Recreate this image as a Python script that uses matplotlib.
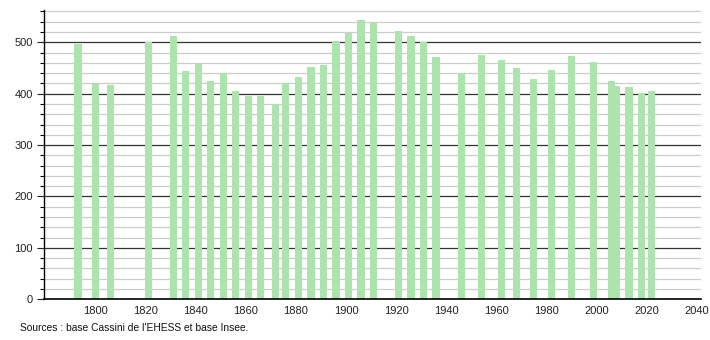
import matplotlib
matplotlib.use("Agg")
import matplotlib.pyplot as plt
from matplotlib.ticker import MultipleLocator

plt.rcParams['font.family'] = ['Liberation Sans', 'DejaVu Sans']

years = [1793, 1800, 1806, 1821, 1831, 1836, 1841, 1846, 1851, 1856, 1861, 1866,
         1872, 1876, 1881, 1886, 1891, 1896, 1901, 1906, 1911, 1921, 1926, 1931,
         1936, 1946, 1954, 1962, 1968, 1975, 1982, 1990, 1999, 2006, 2008, 2013,
         2018, 2022]
population = [497, 419, 416, 500, 512, 444, 458, 425, 440, 405, 395, 395,
              379, 420, 432, 452, 456, 502, 518, 543, 537, 521, 512, 500,
              471, 440, 475, 465, 450, 428, 447, 473, 461, 425, 415, 413,
              401, 405]
x_ticks = [1800, 1820, 1840, 1860, 1880, 1900, 1920, 1940, 1960, 1980, 2000, 2020, 2040]
y_ticks = [0, 100, 200, 300, 400, 500]
source = "Sources : base Cassini de l'EHESS et base Insee."

fig = plt.figure(figsize=(7.1, 3.4), dpi=100)
ax = fig.add_axes([44/710, 1 - 299.3/340, (701-44)/710, (299.3-10)/340])

ax.set_xlim(1779.4, 2041.8)
ax.set_ylim(0, 562.8)

# gridlines
ax.yaxis.set_minor_locator(MultipleLocator(20))
ax.set_yticks(y_ticks)
ax.grid(axis='y', which='minor', color='#cccccc', linewidth=0.9, zorder=0)
ax.grid(axis='y', which='major', color='#333333', linewidth=0.9, zorder=0.5)
ax.set_axisbelow(True)

ax.bar(years, population, width=2.9, color='#ade3ad', zorder=2)

ax.set_xticks(x_ticks)
ax.tick_params(axis='x', length=0, labelsize=8, pad=5, colors='#222222')
ax.tick_params(axis='y', which='major', length=5, width=0.8, labelsize=8, pad=3, colors='#222222')
ax.tick_params(axis='y', which='minor', length=3, width=0.8)

for s in ['top', 'right']:
    ax.spines[s].set_visible(False)
ax.spines['left'].set_linewidth(1.0)
ax.spines['bottom'].set_linewidth(1.2)

fig.text(20/710, 1 - 328/340, source, fontsize=7.4, va='center', ha='left', color='#111111')

fig.savefig("out.png", dpi=100)
